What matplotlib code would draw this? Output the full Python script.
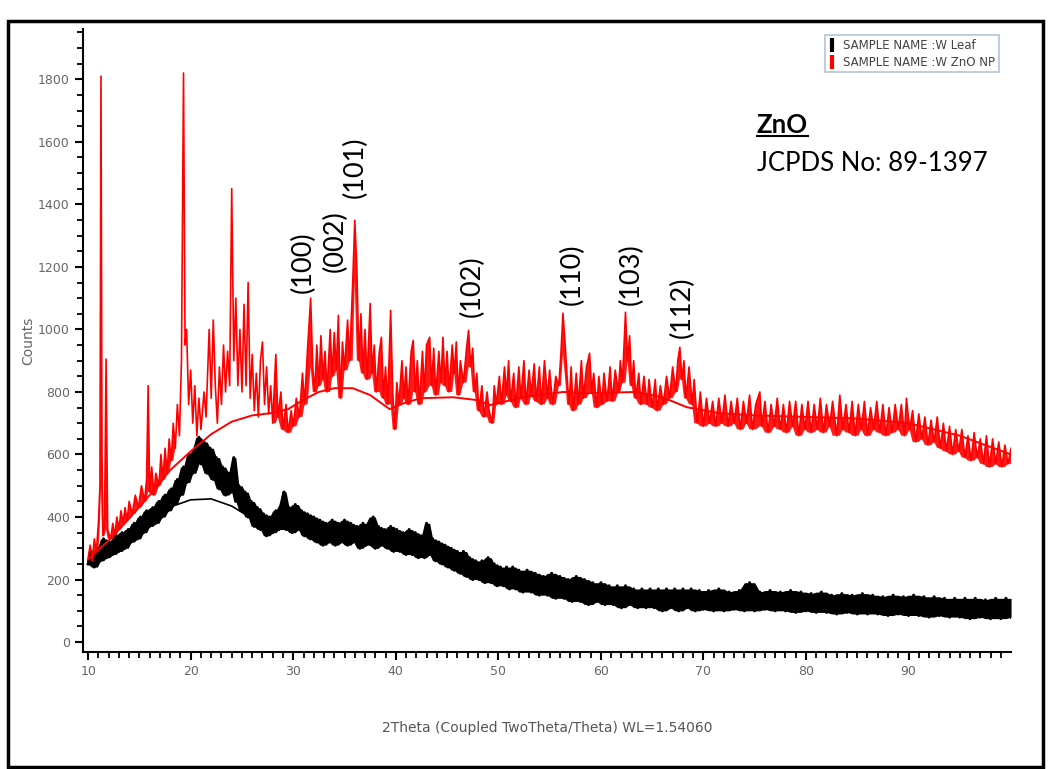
import numpy as np
import matplotlib
matplotlib.use('Agg')
import matplotlib.pyplot as plt
from matplotlib.lines import Line2D
from matplotlib.patches import Rectangle

# XRD 数据
# ZnO NP 扫描 (2theta, counts)
zno_scan = [
    (10.0, 270), (10.2, 310), (10.4, 260), (10.6, 330), (10.8, 290), (11.0, 380),
    (11.15, 500), (11.25, 1810), (11.35, 600), (11.45, 340), (11.6, 380), (11.75, 905),
    (11.9, 360), (12.2, 330), (12.4, 380), (12.6, 340), (12.8, 400), (13.0, 360),
    (13.2, 420), (13.4, 380), (13.6, 430), (13.8, 390), (14.0, 450), (14.3, 410),
    (14.6, 470), (14.9, 430), (15.2, 500), (15.5, 450), (15.7, 520), (15.85, 820),
    (16.0, 480), (16.2, 560), (16.4, 470), (16.6, 540), (16.9, 500), (17.1, 600),
    (17.3, 520), (17.5, 620), (17.7, 540), (17.9, 650), (18.1, 580), (18.3, 700),
    (18.5, 620), (18.7, 760), (18.9, 660), (19.1, 900), (19.3, 1820), (19.45, 950),
    (19.6, 1000), (19.8, 760), (20.0, 870), (20.2, 700), (20.4, 820), (20.6, 660),
    (20.8, 780), (21.0, 680), (21.3, 800), (21.5, 720), (21.8, 1000), (22.0, 780),
    (22.2, 1030), (22.4, 820), (22.6, 700), (22.8, 880), (23.0, 760), (23.2, 950),
    (23.4, 800), (23.6, 930), (23.8, 820), (24.0, 1450), (24.2, 900), (24.4, 1100),
    (24.6, 820), (24.8, 1000), (25.0, 800), (25.2, 1080), (25.4, 820), (25.6, 1150),
    (25.8, 780), (26.0, 920), (26.2, 740), (26.4, 860), (26.6, 720), (26.8, 900),
    (27.0, 960), (27.2, 760), (27.4, 880), (27.6, 730), (27.8, 820), (28.0, 700),
    (28.3, 920), (28.5, 720), (28.8, 800), (29.0, 680), (29.3, 760), (29.5, 670),
    (29.8, 740), (30.0, 690), (30.3, 780), (30.6, 720), (30.9, 860), (31.1, 760),
    (31.4, 940), (31.7, 1100), (31.9, 880), (32.1, 800), (32.3, 950), (32.5, 820),
    (32.7, 980), (32.9, 840), (33.1, 930), (33.3, 800), (33.6, 1000), (33.8, 850),
    (34.0, 990), (34.2, 870), (34.4, 1045), (34.6, 780), (34.8, 960), (35.0, 870),
    (35.3, 1030), (35.5, 900), (35.8, 1150), (36.0, 1349), (36.2, 1200), (36.4, 900),
    (36.6, 1050), (36.8, 860), (37.0, 1000), (37.2, 840), (37.5, 1083), (37.7, 860),
    (37.9, 950), (38.1, 800), (38.4, 930), (38.6, 975), (38.8, 780), (39.0, 880),
    (39.2, 760), (39.5, 1061), (39.7, 800), (39.9, 680), (40.1, 830), (40.3, 760),
    (40.6, 900), (40.8, 780), (41.0, 880), (41.2, 760), (41.5, 930), (41.7, 965),
    (41.9, 800), (42.1, 900), (42.3, 760), (42.6, 930), (42.8, 800), (43.0, 950),
    (43.3, 975), (43.5, 820), (43.7, 940), (43.9, 790), (44.2, 930), (44.4, 830),
    (44.6, 975), (44.8, 820), (45.0, 930), (45.2, 800), (45.5, 950), (45.7, 860),
    (45.9, 960), (46.1, 790), (46.3, 900), (46.6, 830), (46.9, 940), (47.1, 997),
    (47.3, 880), (47.5, 940), (47.7, 800), (47.9, 860), (48.1, 740), (48.4, 820),
    (48.6, 720), (48.9, 800), (49.1, 740), (49.4, 700), (49.6, 820), (49.8, 760),
    (50.1, 850), (50.3, 760), (50.6, 880), (50.8, 790), (51.0, 900), (51.2, 770),
    (51.5, 860), (51.7, 750), (52.0, 880), (52.2, 780), (52.5, 900), (52.7, 760),
    (53.0, 870), (53.2, 790), (53.5, 890), (53.7, 770), (54.0, 880), (54.2, 760),
    (54.5, 900), (54.8, 780), (55.0, 870), (55.3, 760), (55.6, 850), (55.9, 820),
    (56.1, 920), (56.3, 1052), (56.5, 960), (56.7, 850), (56.9, 760), (57.1, 880),
    (57.3, 740), (57.6, 860), (57.8, 760), (58.1, 900), (58.3, 780), (58.6, 880),
    (58.9, 924), (59.1, 800), (59.3, 860), (59.6, 750), (59.8, 850), (60.1, 760),
    (60.3, 860), (60.6, 770), (60.9, 880), (61.1, 770), (61.4, 870), (61.7, 800),
    (61.9, 900), (62.1, 830), (62.4, 1055), (62.6, 900), (62.8, 980), (63.0, 820),
    (63.2, 900), (63.4, 780), (63.7, 860), (63.9, 760), (64.2, 850), (64.5, 760),
    (64.7, 840), (65.0, 750), (65.3, 840), (65.5, 740), (65.8, 820), (66.1, 760),
    (66.4, 850), (66.7, 780), (67.0, 880), (67.3, 800), (67.5, 900), (67.7, 943),
    (67.9, 840), (68.1, 900), (68.3, 780), (68.6, 880), (68.9, 760), (69.1, 840),
    (69.4, 700), (69.7, 800), (70.0, 690), (70.3, 780), (70.6, 700), (70.9, 770),
    (71.2, 690), (71.5, 780), (71.8, 700), (72.1, 790), (72.4, 690), (72.7, 770),
    (73.0, 700), (73.3, 780), (73.6, 680), (73.9, 770), (74.2, 700), (74.5, 790),
    (74.8, 680), (75.1, 760), (75.5, 800), (75.7, 690), (76.0, 770), (76.3, 670),
    (76.6, 760), (76.9, 690), (77.2, 780), (77.5, 680), (77.8, 760), (78.1, 670),
    (78.4, 770), (78.7, 690), (79.0, 770), (79.3, 660), (79.6, 760), (79.9, 680),
    (80.2, 770), (80.5, 670), (80.8, 760), (81.1, 680), (81.4, 780), (81.7, 670),
    (82.0, 760), (82.3, 690), (82.6, 770), (83.0, 660), (83.3, 790), (83.6, 680),
    (83.9, 760), (84.2, 670), (84.5, 770), (84.8, 660), (85.1, 760), (85.4, 680),
    (85.7, 770), (86.0, 660), (86.3, 750), (86.6, 680), (86.9, 770), (87.2, 670),
    (87.5, 760), (87.8, 660), (88.1, 750), (88.4, 670), (88.7, 760), (89.0, 680),
    (89.3, 760), (89.6, 660), (89.8, 780), (90.1, 680), (90.4, 740), (90.7, 640),
    (91.0, 730), (91.3, 650), (91.6, 720), (91.9, 630), (92.2, 710), (92.5, 640),
    (92.8, 720), (93.1, 620), (93.4, 700), (93.7, 610), (94.0, 690), (94.3, 600),
    (94.6, 680), (94.9, 610), (95.2, 680), (95.5, 590), (95.8, 660), (96.1, 580),
    (96.4, 670), (96.7, 590), (97.0, 650), (97.3, 570), (97.6, 660), (97.9, 560),
    (98.2, 650), (98.5, 570), (98.8, 640), (99.1, 560), (99.4, 630), (99.7, 570),
    (100.0, 620),
]

# ZnO NP 背景线
zno_bg = [
    (10, 265), (12, 325), (14, 395), (16, 470), (18, 550), (20, 610), (22, 665),
    (24, 705), (26, 725), (28, 733), (29.5, 745), (31, 775), (32.5, 800), (34, 812),
    (35.8, 812), (37.5, 790), (39.4, 745), (40.7, 763), (42.4, 780), (45.6, 783),
    (47.9, 774), (49.2, 758), (52.4, 783), (56.3, 800), (58.6, 796), (63.5, 800),
    (66, 783), (68.4, 751), (71.6, 732), (75, 725), (80, 720), (85, 715), (90, 700),
    (95, 660), (100, 600),
]

# Leaf 扫描
leaf_scan = [
    (10.0, 250), (10.3, 290), (10.6, 240), (10.9, 300), (11.2, 260), (11.5, 330),
    (11.8, 270), (12.1, 320), (12.4, 280), (12.7, 340), (13.0, 290), (13.3, 350),
    (13.6, 300), (13.9, 360), (14.2, 320), (14.5, 380), (14.8, 330), (15.1, 400),
    (15.4, 350), (15.7, 420), (16.0, 370), (16.3, 430), (16.6, 380), (16.9, 450),
    (17.2, 400), (17.5, 470), (17.8, 420), (18.1, 490), (18.4, 440), (18.7, 520),
    (19.0, 470), (19.3, 560), (19.6, 510), (19.9, 600), (20.2, 540), (20.5, 620),
    (20.8, 655), (21.0, 570), (21.3, 640), (21.6, 540), (21.9, 620), (22.2, 520),
    (22.5, 590), (22.8, 490), (23.1, 560), (23.4, 470), (23.7, 540), (24.0, 480),
    (24.2, 590), (24.4, 450), (24.7, 500), (25.0, 420), (25.3, 480), (25.6, 400),
    (25.9, 450), (26.2, 370), (26.5, 430), (26.8, 360), (27.1, 410), (27.4, 340),
    (27.7, 400), (28.0, 350), (28.3, 420), (28.6, 360), (28.9, 440), (29.1, 480),
    (29.3, 360), (29.6, 430), (29.9, 350), (30.2, 440), (30.5, 360), (30.8, 420),
    (31.1, 340), (31.4, 410), (31.7, 330), (32.0, 400), (32.3, 320), (32.6, 390),
    (32.9, 310), (33.2, 380), (33.5, 320), (33.8, 390), (34.1, 310), (34.4, 380),
    (34.7, 320), (35.0, 390), (35.3, 310), (35.6, 380), (35.9, 320), (36.2, 370),
    (36.5, 300), (36.8, 380), (37.1, 310), (37.4, 360), (37.8, 400), (38.0, 300),
    (38.3, 370), (38.6, 310), (38.9, 360), (39.2, 300), (39.5, 370), (39.8, 290),
    (40.1, 360), (40.4, 290), (40.7, 350), (41.0, 280), (41.3, 360), (41.6, 280),
    (41.9, 350), (42.2, 270), (42.5, 340), (42.8, 270), (43.0, 380), (43.3, 280),
    (43.6, 330), (43.9, 260), (44.2, 320), (44.5, 250), (44.8, 310), (45.1, 240),
    (45.4, 300), (45.7, 230), (46.0, 290), (46.3, 220), (46.6, 290), (46.9, 210),
    (47.2, 270), (47.5, 200), (47.8, 260), (48.1, 200), (48.4, 260), (48.7, 190),
    (49.0, 270), (49.3, 190), (49.6, 250), (49.9, 180), (50.2, 240), (50.5, 180),
    (50.8, 240), (51.1, 170), (51.4, 240), (51.7, 170), (52.0, 230), (52.4, 160),
    (52.8, 230), (53.2, 160), (53.6, 220), (54.0, 150), (54.4, 210), (54.8, 150),
    (55.2, 220), (55.6, 140), (56.0, 210), (56.4, 140), (56.8, 200), (57.2, 130),
    (57.6, 210), (58.0, 130), (58.4, 200), (58.8, 120), (59.2, 190), (59.6, 130),
    (60.0, 190), (60.4, 120), (60.8, 180), (61.2, 120), (61.6, 180), (62.0, 110),
    (62.4, 180), (62.8, 120), (63.2, 170), (63.6, 110), (64.0, 170), (64.4, 110),
    (64.8, 170), (65.2, 110), (65.6, 170), (66.0, 100), (66.4, 170), (66.8, 110),
    (67.2, 170), (67.6, 100), (68.0, 170), (68.4, 110), (68.8, 170), (69.2, 100),
    (69.6, 165), (70.0, 105), (70.5, 165), (71.0, 100), (71.5, 170), (72.0, 100),
    (72.5, 160), (73.0, 105), (73.5, 165), (74.0, 100), (74.5, 190), (75.0, 100),
    (75.5, 160), (76.0, 105), (76.5, 165), (77.0, 100), (77.5, 160), (78.0, 100),
    (78.5, 165), (79.0, 95), (79.5, 160), (80.0, 100), (80.5, 155), (81.0, 95),
    (81.5, 160), (82.0, 95), (82.5, 150), (83.0, 90), (83.5, 155), (84.0, 95),
    (84.5, 150), (85.0, 90), (85.5, 155), (86.0, 90), (86.5, 150), (87.0, 90),
    (87.5, 145), (88.0, 85), (88.5, 150), (89.0, 90), (89.5, 145), (90.0, 85),
    (90.5, 150), (91.0, 85), (91.5, 145), (92.0, 80), (92.5, 145), (93.0, 85),
    (93.5, 140), (94.0, 80), (94.5, 140), (95.0, 80), (95.5, 140), (96.0, 75),
    (96.5, 140), (97.0, 80), (97.5, 135), (98.0, 75), (98.5, 140), (99.0, 75),
    (99.5, 140), (100.0, 80),
]

# Leaf 背景线
leaf_bg = [
    (10, 262), (12, 310), (14, 360), (16, 400), (18, 432), (20, 455), (22, 458),
    (24, 435), (26, 395), (27.5, 372), (31.5, 368), (35, 340), (40, 320), (45, 265),
    (50, 210), (55, 180), (60, 150), (70, 135), (80, 125), (90, 115), (100, 110),
]

# 晶面标注: (标签, 2theta, 文字底部位置)
hkl_labels = ['(100)', '(002)', '(101)', '(102)', '(110)', '(103)', '(112)']
hkl_x = [30.95, 34.1, 36.0, 47.5, 57.2, 63.0, 67.9]
hkl_y = [1116, 1183, 1419, 1039, 1077, 1077, 972]

legend_labels = ['SAMPLE NAME :W Leaf', 'SAMPLE NAME :W ZnO NP']


# 相邻三点的最小/最大值，用来画噪声带
def envelope(y):
    pad = np.r_[y[0], y, y[-1]]
    win = np.vstack([pad[:-2], pad[1:-1], pad[2:]])
    return win.min(axis=0), win.max(axis=0)


zx, zy = np.array(zno_scan).T
zbx, zby = np.array(zno_bg).T
lx, ly = np.array(leaf_scan).T
lbx, lby = np.array(leaf_bg).T

fig = plt.figure(figsize=(10.51, 7.69), dpi=100)
ax = fig.add_axes([0.079, 0.152, 0.883, 0.81])

# Leaf
l_lo, l_hi = envelope(ly)
ax.fill_between(lx, l_lo, l_hi, color='black', lw=0)
ax.plot(lx, ly, color='black', lw=2.2)
ax.plot(lbx, lby, color='black', lw=1.2)

# ZnO NP
z_lo, _ = envelope(zy)
dense = (zx <= 18.6) | (zx >= 28)
ax.fill_between(zx, z_lo, zy, where=dense, color='#ff1a1a', lw=0)
ax.plot(zx, zy, color='#ff0000', lw=1.2)
ax.plot(zbx, zby, color='#ff0000', lw=1.4)

ax.set_xlim(9.5, 100)
ax.set_ylim(-32, 1960)
ax.set_xticks(np.arange(10, 100, 10))
ax.set_xticks(np.arange(10, 100, 1), minor=True)
ax.set_yticks(np.arange(0, 1801, 200))
ax.set_yticks(np.arange(0, 1951, 50), minor=True)
ax.tick_params(which='major', length=6, width=1.5, labelsize=9, labelcolor='#666666')
ax.tick_params(which='minor', length=4, width=1.3)
for s in ['top', 'right']:
    ax.spines[s].set_visible(False)
for s in ['left', 'bottom']:
    ax.spines[s].set_linewidth(1.5)

ax.set_ylabel('Counts', fontsize=10, color='#666666')
ax.yaxis.set_label_coords(-0.052, 0.5)
ax.set_xlabel('2Theta (Coupled TwoTheta/Theta) WL=1.54060', fontsize=10,
              color='#555555', labelpad=31)

# 图例
handles = [Line2D([], [], color='black', marker='|', ls='none', ms=10, mew=3),
           Line2D([], [], color='#ff0000', marker='|', ls='none', ms=10, mew=3)]
leg = ax.legend(handles, legend_labels, loc='upper right', bbox_to_anchor=(0.993, 1.0),
                fontsize=8.5, frameon=True, fancybox=False, handlelength=0.6,
                handletextpad=0.6, borderpad=0.3, labelspacing=0.35)
leg.get_frame().set_edgecolor('#9fb4cf')
leg.get_frame().set_linewidth(1.2)
for t in leg.get_texts():
    t.set_color('#444444')

# 晶面标签
for lab, x, y in zip(hkl_labels, hkl_x, hkl_y):
    ax.text(x, y, lab, rotation=90, ha='center', va='bottom', fontsize=19.5,
            family='Lato', color='black')

# ZnO / JCPDS
t1 = fig.text(0.720, 0.837, 'ZnO', fontsize=18.5, fontweight='bold', family='Lato',
              ha='left', va='center')
fig.text(0.720, 0.788, 'JCPDS No: 89-1397', fontsize=18.5, family='Lato',
         ha='left', va='center')
fig.canvas.draw()
bb = t1.get_window_extent().transformed(fig.transFigure.inverted())
fig.add_artist(Line2D([bb.x0, bb.x1], [bb.y0 + 0.002, bb.y0 + 0.002],
                      transform=fig.transFigure, color='black', lw=1.5))

# 外框
fig.add_artist(Rectangle((0.008, 0.003), 0.984, 0.97, transform=fig.transFigure,
                         fill=False, edgecolor='black', lw=2.5))

fig.savefig('out.png', dpi=100)
